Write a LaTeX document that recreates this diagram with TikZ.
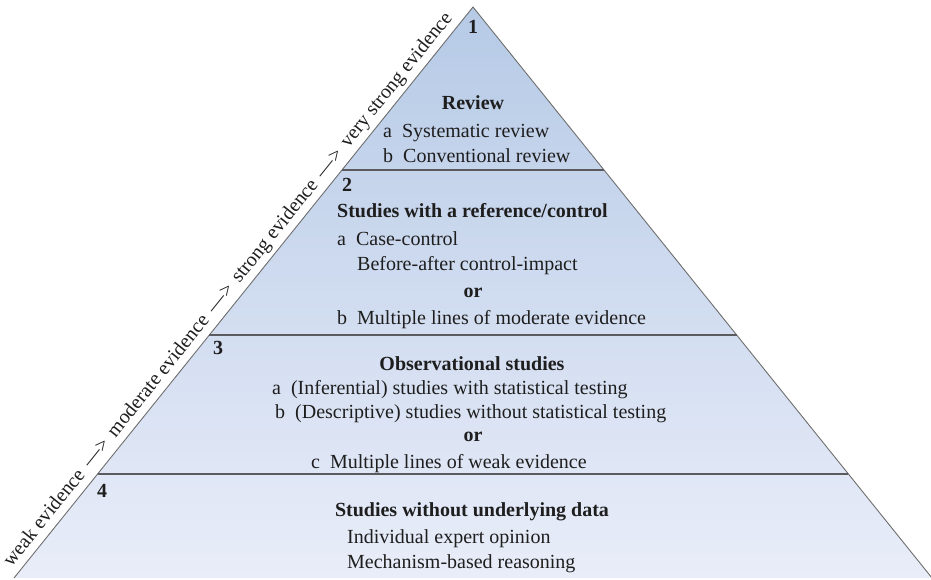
\documentclass[tikz,border=0pt]{standalone}
\usepackage{fontspec}
\setmainfont{Liberation Serif}
\usetikzlibrary{calc}
\definecolor{topc}{RGB}{182,202,230}
\definecolor{botc}{RGB}{233,237,249}
\definecolor{edgec}{RGB}{110,110,110}
\definecolor{divc}{RGB}{90,90,95}
\definecolor{textc}{RGB}{30,30,30}
\newcommand\itm[1]{#1\hspace{0.5em}}
\newcommand\arr{\hspace{0.4em}\textemdash\kern0.02em>\hspace{0.4em}}
\begin{document}
\begin{tikzpicture}[x=1pt,y=-1pt,
  txt/.style={inner sep=0pt, text=textc, font=\fontsize{20}{24}\selectfont},
  lft/.style={txt, anchor=base west},
  hd/.style={txt, anchor=base, font=\fontsize{20}{24}\selectfont\bfseries},
  num/.style={txt, anchor=base west, font=\fontsize{20}{24}\selectfont\bfseries},
  edgeline/.style={draw=edgec, line width=0.9pt},
  divline/.style={draw=divc, line width=1.1pt}]
\useasboundingbox (0,0) rectangle (931,580);
\coordinate (apex) at (473,7);
\coordinate (bl) at (14,578);
\coordinate (br) at (932,578);
\shade[top color=topc, bottom color=botc] (apex) -- (br) -- (bl) -- cycle;
\draw[edgeline] (bl) -- (apex) -- (br);
% dividers
\coordinate (d1l) at ($(apex)!0.2855!(bl)$);
\coordinate (d1r) at ($(apex)!0.2855!(br)$);
\coordinate (d2l) at ($(apex)!0.5744!(bl)$);
\coordinate (d2r) at ($(apex)!0.5744!(br)$);
\coordinate (d3l) at ($(apex)!0.8179!(bl)$);
\coordinate (d3r) at ($(apex)!0.8179!(br)$);
\draw[divline] (d1l) -- (d1r);
\draw[divline] (d2l) -- (d2r);
\draw[divline] (d3l) -- (d3r);
% level 1
\node[num, anchor=base] (n1) at (473,34) {1};
\node[hd] (h1) at (473,110) {Review};
\node[lft] (t1a) at (383,138) {\itm{a}Systematic review};
\node[lft] (t1b) at (383,163) {\itm{b}Conventional review};
% level 2
\node[num] (n2) at (342,192) {2};
\node[num] (h2) at (337,217) {Studies with a reference/control};
\node[lft] (t2a) at (337,245) {\itm{a}Case-control};
\node[lft] (t2a2) at (357,270) {Before-after control-impact};
\node[hd] (or2) at (473,297) {or};
\node[lft] (t2b) at (337,324) {\itm{b}Multiple lines of moderate evidence};
% level 3
\node[num] (n3) at (213,354) {3};
\node[hd] (h3) at (472,370) {Observational studies};
\node[lft] (t3a) at (272,394) {\itm{a}(Inferential) studies with statistical testing};
\node[lft] (t3b) at (275,418) {\itm{b}(Descriptive) studies without statistical testing};
\node[hd] (or3) at (473,441) {or};
\node[lft] (t3c) at (311,468) {\itm{c}Multiple lines of weak evidence};
% level 4
\node[num] (n4) at (97,497) {4};
\node[hd] (h4) at (472,516) {Studies without underlying data};
\node[lft] (t4a) at (347,543) {Individual expert opinion};
\node[lft] (t4b) at (347,568) {Mechanism-based reasoning};
% side text
\path (bl) -- (apex) node[pos=0.49, sloped, above=4pt, txt] (ev)
  {weak evidence\arr moderate evidence\arr strong evidence\arr very strong evidence};
\end{tikzpicture}
\end{document}
